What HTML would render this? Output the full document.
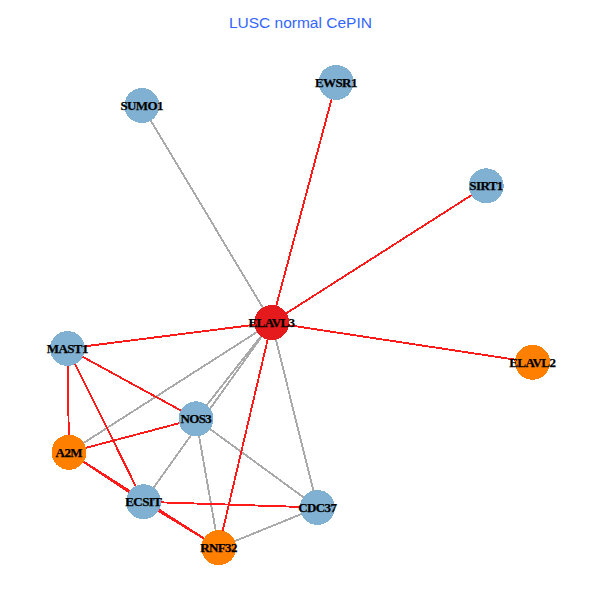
<!DOCTYPE html>
<html lang="en"><head><meta charset="utf-8"><title>LUSC normal CePIN</title>
<style>
html,body{margin:0;padding:0;background:#fff;}
body{width:600px;height:600px;overflow:hidden;}
svg{display:block;}
.t{font-family:"Liberation Sans",Arial,Helvetica,sans-serif;font-size:15.5px;letter-spacing:0px;fill:#3366FF;}
.l{font-family:"Liberation Serif","Times New Roman",Times,serif;font-weight:bold;font-size:13px;letter-spacing:-0.6px;fill:#000;stroke:#000;stroke-width:0.25px;}
</style></head><body>
<svg width="600" height="600" viewBox="0 0 600 600">
<rect width="600" height="600" fill="#fff"/>
<text class="t" x="228.9" y="28">LUSC normal CePIN</text>
<g stroke-width="1.9" stroke-linecap="butt" fill="none" shape-rendering="crispEdges">
<line x1="141.9" y1="105.6" x2="271.7" y2="322.6" stroke="#A9A9A9"/>
<line x1="271.7" y1="322.6" x2="196.0" y2="418.8" stroke="#A9A9A9"/>
<line x1="271.7" y1="322.6" x2="69.0" y2="452.3" stroke="#A9A9A9"/>
<line x1="271.7" y1="322.6" x2="143.5" y2="501.8" stroke="#A9A9A9"/>
<line x1="271.7" y1="322.6" x2="317.5" y2="507.5" stroke="#A9A9A9"/>
<line x1="196.0" y1="418.8" x2="218.7" y2="547.7" stroke="#A9A9A9"/>
<line x1="196.0" y1="418.8" x2="317.5" y2="507.5" stroke="#A9A9A9"/>
<line x1="218.7" y1="547.7" x2="317.5" y2="507.5" stroke="#A9A9A9"/>
<line x1="336.1" y1="82.4" x2="271.7" y2="322.6" stroke="#FF1A1A"/>
<line x1="486.2" y1="185.8" x2="271.7" y2="322.6" stroke="#FF1A1A"/>
<line x1="271.7" y1="322.6" x2="67.5" y2="348.5" stroke="#FF1A1A"/>
<line x1="271.7" y1="322.6" x2="532.5" y2="362.3" stroke="#FF1A1A"/>
<line x1="271.7" y1="322.6" x2="218.7" y2="547.7" stroke="#FF1A1A"/>
<line x1="67.5" y1="348.5" x2="196.0" y2="418.8" stroke="#FF1A1A"/>
<line x1="67.5" y1="348.5" x2="69.0" y2="452.3" stroke="#FF1A1A"/>
<line x1="67.5" y1="348.5" x2="143.5" y2="501.8" stroke="#FF1A1A"/>
<line x1="69.0" y1="452.3" x2="196.0" y2="418.8" stroke="#FF1A1A"/>
<line x1="69.0" y1="452.3" x2="143.5" y2="501.8" stroke="#FF1A1A"/>
<line x1="69.0" y1="452.3" x2="218.7" y2="547.7" stroke="#FF1A1A"/>
<line x1="143.5" y1="501.8" x2="218.7" y2="547.7" stroke="#FF1A1A"/>
<line x1="143.5" y1="501.8" x2="317.5" y2="507.5" stroke="#FF1A1A"/>
</g>
<g shape-rendering="crispEdges">
<circle cx="141.9" cy="105.6" r="17.5" fill="#80B1D3"/>
<circle cx="336.1" cy="82.4" r="17.5" fill="#80B1D3"/>
<circle cx="486.2" cy="185.8" r="17.5" fill="#80B1D3"/>
<circle cx="271.7" cy="322.6" r="17.5" fill="#E41A1C"/>
<circle cx="67.5" cy="348.5" r="17.5" fill="#80B1D3"/>
<circle cx="532.5" cy="362.3" r="17.5" fill="#FF7F00"/>
<circle cx="196.0" cy="418.8" r="17.5" fill="#80B1D3"/>
<circle cx="69.0" cy="452.3" r="17.5" fill="#FF7F00"/>
<circle cx="143.5" cy="501.8" r="17.5" fill="#80B1D3"/>
<circle cx="317.5" cy="507.5" r="17.5" fill="#80B1D3"/>
<circle cx="218.7" cy="547.7" r="17.5" fill="#FF7F00"/>
</g>
<g text-anchor="middle">
<text class="l" x="141.7" y="110.0">SUMO1</text>
<text class="l" x="335.9" y="86.8">EWSR1</text>
<text class="l" x="486.0" y="190.2">SIRT1</text>
<text class="l" x="271.5" y="327.0">ELAVL3</text>
<text class="l" x="67.3" y="352.9">MAST1</text>
<text class="l" x="532.3" y="366.7">ELAVL2</text>
<text class="l" x="195.8" y="423.2">NOS3</text>
<text class="l" x="68.8" y="456.7">A2M</text>
<text class="l" x="143.3" y="506.2">ECSIT</text>
<text class="l" x="317.3" y="511.9">CDC37</text>
<text class="l" x="218.5" y="552.1">RNF32</text>
</g>
</svg>
</body></html>
